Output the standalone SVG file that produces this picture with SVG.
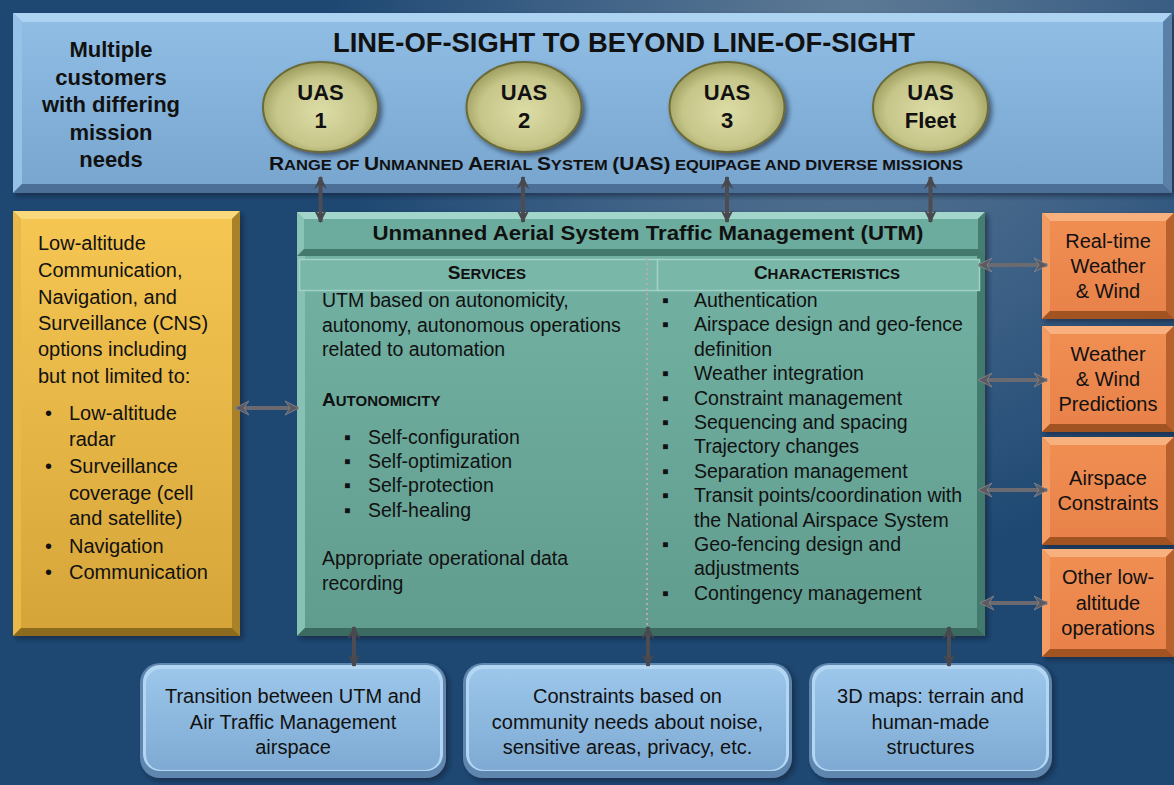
<svg xmlns="http://www.w3.org/2000/svg" width="1174" height="785" viewBox="0 0 1174 785">
<defs>
  <radialGradient id="bg" cx="850" cy="40" r="520" gradientUnits="userSpaceOnUse">
    <stop offset="0" stop-color="#5f7b96"/>
    <stop offset="0.6" stop-color="#3a5e84"/>
    <stop offset="1" stop-color="#1e4872"/>
  </radialGradient>
  <linearGradient id="gTop" x1="0" y1="0" x2="0" y2="1">
    <stop offset="0" stop-color="#90bde4"/>
    <stop offset="1" stop-color="#79a6cf"/>
  </linearGradient>
  <linearGradient id="gYel" x1="0" y1="0" x2="0" y2="1">
    <stop offset="0" stop-color="#f5c652"/>
    <stop offset="1" stop-color="#d6a53a"/>
  </linearGradient>
  <linearGradient id="gUtm" x1="0" y1="0" x2="0" y2="1">
    <stop offset="0" stop-color="#74b3a5"/>
    <stop offset="1" stop-color="#619d8f"/>
  </linearGradient>
  <linearGradient id="gOr" x1="0" y1="0" x2="0" y2="1">
    <stop offset="0" stop-color="#f08e52"/>
    <stop offset="1" stop-color="#e8824a"/>
  </linearGradient>
  <linearGradient id="gBot" x1="0" y1="0" x2="0" y2="1">
    <stop offset="0" stop-color="#9cc6ea"/>
    <stop offset="1" stop-color="#7eaad3"/>
  </linearGradient>
  <radialGradient id="gUas" cx="0.5" cy="0.55" r="0.55">
    <stop offset="0" stop-color="#dcdca6"/>
    <stop offset="0.7" stop-color="#c6c68a"/>
    <stop offset="1" stop-color="#9c9c5c"/>
  </radialGradient>
  <filter id="sh" x="-10%" y="-10%" width="130%" height="130%">
    <feDropShadow dx="3" dy="3" stdDeviation="2.5" flood-color="#0a1a30" flood-opacity="0.6"/>
  </filter>
  <marker id="ah" viewBox="0 0 14 16" refX="13" refY="8" markerWidth="14" markerHeight="16" markerUnits="userSpaceOnUse" orient="auto-start-reverse">
    <path d="M0,1 L14,8 L0,15 L5,8 z" fill="#5a5a60" stroke="#8a8a90" stroke-width="0.8"/>
  </marker>
  <marker id="ahd" viewBox="0 0 14 16" refX="13" refY="8" markerWidth="13" markerHeight="15" markerUnits="userSpaceOnUse" orient="auto-start-reverse">
    <path d="M0,1 L14,8 L0,15 L5,8 z" fill="#48484e"/>
  </marker>
  <style>
    text { font-family: "Liberation Sans", Arial, sans-serif; fill: #111; }
    .b { font-weight: bold; }
    .body { font-size: 19.5px; }
    .yel { font-size: 20px; }
    .or { font-size: 20px; text-anchor: middle; }
    .bot { font-size: 20px; text-anchor: middle; }
    .uas { font-size: 22px; font-weight: bold; text-anchor: middle; }
    .arrow { stroke: #6a6a70; stroke-width: 4; fill: none; marker-start: url(#ah); marker-end: url(#ah); }
    .varrow { stroke: #4c4c52; stroke-width: 4; fill: none; marker-start: url(#ahd); marker-end: url(#ahd); }
  </style>
</defs>

<rect x="0" y="0" width="1174" height="785" fill="url(#bg)"/>

<!-- Top box -->
<g id="top-box">
  <g filter="url(#sh)">
    <rect x="13" y="13" width="1159" height="180" fill="#6f9bc4"/>
  </g>
  <polygon points="13,13 1172,13 1163,22 22,22" fill="#acd3f2"/>
  <polygon points="13,13 22,22 22,184 13,193" fill="#97c2e7"/>
  <polygon points="1172,13 1172,193 1163,184 1163,22" fill="#5a80a7"/>
  <polygon points="13,193 22,184 1163,184 1172,193" fill="#4b6f96"/>
  <rect x="22" y="22" width="1141" height="162" fill="url(#gTop)"/>
  <text class="b" x="624" y="52" font-size="27" text-anchor="middle" textLength="582" lengthAdjust="spacingAndGlyphs">LINE-OF-SIGHT TO BEYOND LINE-OF-SIGHT</text>
  <g class="b" font-size="22" text-anchor="middle">
    <text x="111" y="57">Multiple</text>
    <text x="111" y="84.5">customers</text>
    <text x="111" y="112">with differing</text>
    <text x="111" y="139.5">mission</text>
    <text x="111" y="167">needs</text>
  </g>
  <text class="b" x="269" y="170" textLength="694" lengthAdjust="spacingAndGlyphs"><tspan font-size="19">R</tspan><tspan font-size="15">ANGE OF </tspan><tspan font-size="19">U</tspan><tspan font-size="15">NMANNED </tspan><tspan font-size="19">A</tspan><tspan font-size="15">ERIAL </tspan><tspan font-size="19">S</tspan><tspan font-size="15">YSTEM </tspan><tspan font-size="19">(UAS)</tspan><tspan font-size="15"> EQUIPAGE AND DIVERSE MISSIONS</tspan></text>
</g>

<g id="uas1">
  <ellipse cx="320.5" cy="107" rx="57.5" ry="45" fill="url(#gUas)" stroke="#6a6a38" stroke-width="2" filter="url(#sh)"/>
  <text class="uas" x="320.5" y="100">UAS</text>
  <text class="uas" x="320.5" y="128">1</text>
</g>
<g id="uas2">
  <ellipse cx="524" cy="107" rx="57.5" ry="45" fill="url(#gUas)" stroke="#6a6a38" stroke-width="2" filter="url(#sh)"/>
  <text class="uas" x="524" y="100">UAS</text>
  <text class="uas" x="524" y="128">2</text>
</g>
<g id="uas3">
  <ellipse cx="727" cy="107" rx="57.5" ry="45" fill="url(#gUas)" stroke="#6a6a38" stroke-width="2" filter="url(#sh)"/>
  <text class="uas" x="727" y="100">UAS</text>
  <text class="uas" x="727" y="128">3</text>
</g>
<g id="uas-fleet">
  <ellipse cx="930.5" cy="107" rx="57.5" ry="45" fill="url(#gUas)" stroke="#6a6a38" stroke-width="2" filter="url(#sh)"/>
  <text class="uas" x="930.5" y="100">UAS</text>
  <text class="uas" x="930.5" y="128">Fleet</text>
</g>

<!-- Left yellow box -->
<g id="cns-box">
  <g filter="url(#sh)">
    <rect x="13" y="211" width="227" height="425" fill="#c89a30"/>
  </g>
  <polygon points="13,211 240,211 232,219 21,219" fill="#f9d97c"/>
  <polygon points="13,211 21,219 21,628 13,636" fill="#e9ba4a"/>
  <polygon points="240,211 240,636 232,628 232,219" fill="#a98129"/>
  <polygon points="13,636 21,628 232,628 240,636" fill="#8c6a1e"/>
  <rect x="21" y="219" width="211" height="409" fill="url(#gYel)"/>
  <g class="yel">
    <text x="38" y="250">Low-altitude</text>
    <text x="38" y="277">Communication,</text>
    <text x="38" y="304">Navigation, and</text>
    <text x="38" y="330">Surveillance (CNS)</text>
    <text x="38" y="356">options including</text>
    <text x="38" y="383">but not limited to:</text>
    <text x="45" y="420">•</text><text x="69" y="420">Low-altitude</text>
    <text x="69" y="446">radar</text>
    <text x="45" y="473">•</text><text x="69" y="473">Surveillance</text>
    <text x="69" y="500">coverage (cell</text>
    <text x="69" y="525">and satellite)</text>
    <text x="45" y="553">•</text><text x="69" y="553">Navigation</text>
    <text x="45" y="579">•</text><text x="69" y="579">Communication</text>
  </g>
</g>

<!-- UTM box -->
<g id="utm-box">
  <g filter="url(#sh)">
    <rect x="297" y="212" width="688" height="424" fill="#4f8a7d"/>
  </g>
  <polygon points="297,212 985,212 977,220 305,220" fill="#a0d4c8"/>
  <polygon points="297,212 305,220 305,628 297,636" fill="#86c1b4"/>
  <polygon points="985,212 985,636 977,628 977,220" fill="#427a6e"/>
  <polygon points="297,636 305,628 977,628 985,636" fill="#3a6a60"/>
  <rect x="305" y="220" width="672" height="408" fill="url(#gUtm)"/>
  <!-- title bar -->
  <polygon points="297,212 985,212 978,219 304,219" fill="#a3d6ca"/>
  <polygon points="297,212 304,219 304,249 297,256" fill="#88c3b6"/>
  <polygon points="985,212 985,256 978,249 978,219" fill="#457d71"/>
  <polygon points="297,256 304,249 978,249 985,256" fill="#44796d"/>
  <rect x="304" y="219" width="674" height="30" fill="#6cac9e"/>
  <text class="b" x="648" y="240" font-size="21" text-anchor="middle" textLength="551" lengthAdjust="spacingAndGlyphs">Unmanned Aerial System Traffic Management (UTM)</text>
  <!-- header cells -->
  <rect x="299.5" y="259.5" width="360" height="31" fill="#79b7a9" stroke="#a2d2c6" stroke-width="1.5"/>
  <rect x="657.5" y="259.5" width="322" height="31" fill="#79b7a9" stroke="#a2d2c6" stroke-width="1.5"/>
  <text class="b" x="487" y="279" text-anchor="middle"><tspan font-size="19">S</tspan><tspan font-size="15">ERVICES</tspan></text>
  <text class="b" x="827" y="279" text-anchor="middle"><tspan font-size="19">C</tspan><tspan font-size="15">HARACTERISTICS</tspan></text>
  <line x1="647" y1="258" x2="647" y2="630" stroke="#b8aaa8" stroke-width="2" stroke-dasharray="2,3"/>
  <!-- services -->
  <g class="body">
    <text x="322" y="307">UTM based on autonomicity,</text>
    <text x="322" y="332">autonomy, autonomous operations</text>
    <text x="322" y="356">related to automation</text>
    <text class="b" x="322" y="406"><tspan font-size="19">A</tspan><tspan font-size="15">UTONOMICITY</tspan></text>
    <text x="344" y="444">▪</text><text x="368" y="444">Self-configuration</text>
    <text x="344" y="468">▪</text><text x="368" y="468">Self-optimization</text>
    <text x="344" y="492">▪</text><text x="368" y="492">Self-protection</text>
    <text x="344" y="517">▪</text><text x="368" y="517">Self-healing</text>
    <text x="322" y="565">Appropriate operational data</text>
    <text x="322" y="590">recording</text>
  </g>
  <!-- characteristics -->
  <g class="body">
    <text x="662" y="307">▪</text><text x="694" y="307">Authentication</text>
    <text x="662" y="331.4">▪</text><text x="694" y="331.4">Airspace design and geo-fence</text>
    <text x="694" y="355.8">definition</text>
    <text x="662" y="380.2">▪</text><text x="694" y="380.2">Weather integration</text>
    <text x="662" y="404.6">▪</text><text x="694" y="404.6">Constraint management</text>
    <text x="662" y="429">▪</text><text x="694" y="429">Sequencing and spacing</text>
    <text x="662" y="453.4">▪</text><text x="694" y="453.4">Trajectory changes</text>
    <text x="662" y="477.8">▪</text><text x="694" y="477.8">Separation management</text>
    <text x="662" y="502.2">▪</text><text x="694" y="502.2">Transit points/coordination with</text>
    <text x="694" y="526.6">the National Airspace System</text>
    <text x="662" y="551">▪</text><text x="694" y="551">Geo-fencing design and</text>
    <text x="694" y="575.4">adjustments</text>
    <text x="662" y="599.8">▪</text><text x="694" y="599.8">Contingency management</text>
  </g>
</g>

<!-- Orange boxes -->
<g id="or1">
  <g filter="url(#sh)"><rect x="1042" y="213" width="132" height="106" fill="#c66a35"/></g>
  <polygon points="1042,213 1174,213 1166,221 1050,221" fill="#f7b07e"/>
  <polygon points="1042,213 1050,221 1050,311 1042,319" fill="#f29c64"/>
  <polygon points="1174,213 1174,319 1166,311 1166,221" fill="#b9612d"/>
  <polygon points="1042,319 1050,311 1166,311 1174,319" fill="#a25322"/>
  <rect x="1050" y="221" width="116" height="90" fill="url(#gOr)"/>
  <text class="or" x="1108" y="248">Real-time</text>
  <text class="or" x="1108" y="273">Weather</text>
  <text class="or" x="1108" y="298">&amp; Wind</text>
</g>
<g id="or2">
  <g filter="url(#sh)"><rect x="1042" y="326" width="132" height="106" fill="#c66a35"/></g>
  <polygon points="1042,326 1174,326 1166,334 1050,334" fill="#f7b07e"/>
  <polygon points="1042,326 1050,334 1050,424 1042,432" fill="#f29c64"/>
  <polygon points="1174,326 1174,432 1166,424 1166,334" fill="#b9612d"/>
  <polygon points="1042,432 1050,424 1166,424 1174,432" fill="#a25322"/>
  <rect x="1050" y="334" width="116" height="90" fill="url(#gOr)"/>
  <text class="or" x="1108" y="361">Weather</text>
  <text class="or" x="1108" y="386">&amp; Wind</text>
  <text class="or" x="1108" y="411">Predictions</text>
</g>
<g id="or3">
  <g filter="url(#sh)"><rect x="1042" y="437" width="132" height="108" fill="#c66a35"/></g>
  <polygon points="1042,437 1174,437 1166,445 1050,445" fill="#f7b07e"/>
  <polygon points="1042,437 1050,445 1050,537 1042,545" fill="#f29c64"/>
  <polygon points="1174,437 1174,545 1166,537 1166,445" fill="#b9612d"/>
  <polygon points="1042,545 1050,537 1166,537 1174,545" fill="#a25322"/>
  <rect x="1050" y="445" width="116" height="92" fill="url(#gOr)"/>
  <text class="or" x="1108" y="485">Airspace</text>
  <text class="or" x="1108" y="510">Constraints</text>
</g>
<g id="or4">
  <g filter="url(#sh)"><rect x="1042" y="549" width="132" height="108" fill="#c66a35"/></g>
  <polygon points="1042,549 1174,549 1166,557 1050,557" fill="#f7b07e"/>
  <polygon points="1042,549 1050,557 1050,649 1042,657" fill="#f29c64"/>
  <polygon points="1174,549 1174,657 1166,649 1166,557" fill="#b9612d"/>
  <polygon points="1042,657 1050,649 1166,649 1174,657" fill="#a25322"/>
  <rect x="1050" y="557" width="116" height="92" fill="url(#gOr)"/>
  <text class="or" x="1108" y="584">Other low-</text>
  <text class="or" x="1108" y="610">altitude</text>
  <text class="or" x="1108" y="635">operations</text>
</g>

<!-- Bottom boxes -->
<g id="bot1">
  <rect x="140" y="663" width="306" height="115" rx="20" fill="#5f86ae" filter="url(#sh)"/>
  <rect x="143" y="665" width="300" height="106" rx="17" fill="#b3d6f3"/>
  <rect x="146" y="669" width="294" height="101" rx="15" fill="url(#gBot)"/>
  <text class="bot" x="293" y="703">Transition between UTM and</text>
  <text class="bot" x="293" y="728.5">Air Traffic Management</text>
  <text class="bot" x="293" y="754">airspace</text>
</g>
<g id="bot2">
  <rect x="463" y="663" width="329" height="115" rx="20" fill="#5f86ae" filter="url(#sh)"/>
  <rect x="466" y="665" width="323" height="106" rx="17" fill="#b3d6f3"/>
  <rect x="469" y="669" width="317" height="101" rx="15" fill="url(#gBot)"/>
  <text class="bot" x="627.5" y="703">Constraints based on</text>
  <text class="bot" x="627.5" y="728.5">community needs about noise,</text>
  <text class="bot" x="627.5" y="754">sensitive areas, privacy, etc.</text>
</g>
<g id="bot3">
  <rect x="809" y="663" width="243" height="115" rx="20" fill="#5f86ae" filter="url(#sh)"/>
  <rect x="812" y="665" width="237" height="106" rx="17" fill="#b3d6f3"/>
  <rect x="815" y="669" width="231" height="101" rx="15" fill="url(#gBot)"/>
  <text class="bot" x="930.5" y="703">3D maps: terrain and</text>
  <text class="bot" x="930.5" y="728.5">human-made</text>
  <text class="bot" x="930.5" y="754">structures</text>
</g>

<!-- Connectors -->
<g id="connectors">
  <line class="varrow" x1="320.5" y1="177" x2="320.5" y2="222"/>
  <line class="varrow" x1="523" y1="177" x2="523" y2="222"/>
  <line class="varrow" x1="727" y1="177" x2="727" y2="222"/>
  <line class="varrow" x1="930.5" y1="177" x2="930.5" y2="222"/>
  <line class="arrow" x1="236" y1="408" x2="298" y2="408"/>
  <line class="arrow" x1="979" y1="265" x2="1047" y2="265"/>
  <line class="arrow" x1="979" y1="380" x2="1047" y2="380"/>
  <line class="arrow" x1="979" y1="490" x2="1047" y2="490"/>
  <line class="arrow" x1="981" y1="603" x2="1047" y2="603"/>
  <line class="varrow" x1="354" y1="627" x2="354" y2="666"/>
  <line class="varrow" x1="648" y1="627" x2="648" y2="666"/>
  <line class="varrow" x1="949" y1="627" x2="949" y2="666"/>
</g>
</svg>
